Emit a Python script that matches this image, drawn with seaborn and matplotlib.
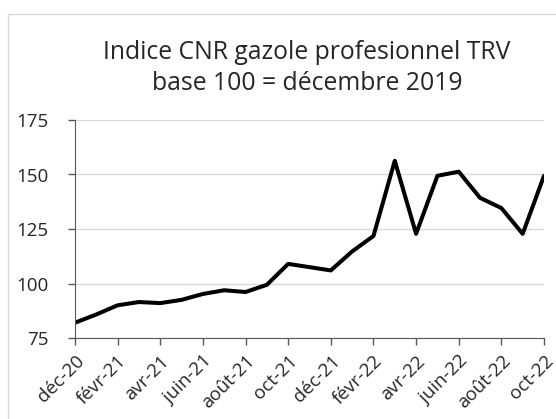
import matplotlib
matplotlib.use("Agg")
import matplotlib.pyplot as plt
import seaborn as sns
import pandas as pd
from matplotlib.patches import Rectangle

# Monthly values, déc-20 .. oct-22
months = ['déc-20', 'janv-21', 'févr-21', 'mars-21', 'avr-21', 'mai-21', 'juin-21',
          'juil-21', 'août-21', 'sept-21', 'oct-21', 'nov-21', 'déc-21', 'janv-22',
          'févr-22', 'mars-22', 'avr-22', 'mai-22', 'juin-22', 'juil-22', 'août-22',
          'sept-22', 'oct-22']
indice = [82.0, 85.8, 90.0, 91.5, 91.0, 92.5, 95.2, 96.9, 96.1, 99.4, 109.0, 107.5,
          106.0, 114.7, 121.8, 156.3, 122.8, 149.4, 151.3, 139.3, 134.6, 122.8, 149.4]
y_ticks = [75, 100, 125, 150, 175]
title = 'Indice CNR gazole profesionnel TRV\nbase 100 = décembre 2019'

df = pd.DataFrame({'pos': range(len(months)), 'mois': months, 'indice': indice})

sns.set_style('white')
plt.rcParams['font.family'] = ['Open Sans', 'DejaVu Sans']

fig = plt.figure(figsize=(5.56, 4.19), dpi=100)
ax = fig.add_axes([75/556, 81/419, 469/556, 218/419])

# chart border
fig.patches.append(Rectangle((8/556, -0.1), 1.1, 1 - 14/419 + 0.1, transform=fig.transFigure,
                             fill=False, edgecolor='#d9d9d9', linewidth=1))

sns.lineplot(data=df, x='pos', y='indice', color='black', linewidth=2.9, ax=ax)

ax.set_xlim(0, len(months) - 1)
ax.set_ylim(75, 175)
ax.set_yticks(y_ticks)
ax.set_yticklabels([str(v) for v in y_ticks], fontsize=13.5)
ax.set_xticks(df['pos'][::2])
ax.set_xticklabels(df['mois'][::2], rotation=45, ha='right', rotation_mode='anchor', fontsize=13.5)
ax.set_xlabel('')
ax.set_ylabel('')
ax.grid(axis='y', color='#d9d9d9', linewidth=1)
ax.set_axisbelow(True)

for s in ['top', 'right']:
    ax.spines[s].set_visible(False)
ax.spines['left'].set_color('#595959')
ax.spines['bottom'].set_color('#595959')
ax.tick_params(axis='y', direction='out', length=5, color='#595959', width=1, left=True, pad=14)
ax.tick_params(axis='x', direction='out', length=5, color='#595959', width=1, bottom=True, pad=5)

fig.text(307/556, 1 - 68/419, title, ha='center', va='center', fontsize=17.8, linespacing=1.3)

fig.savefig('out.png', dpi=100)
